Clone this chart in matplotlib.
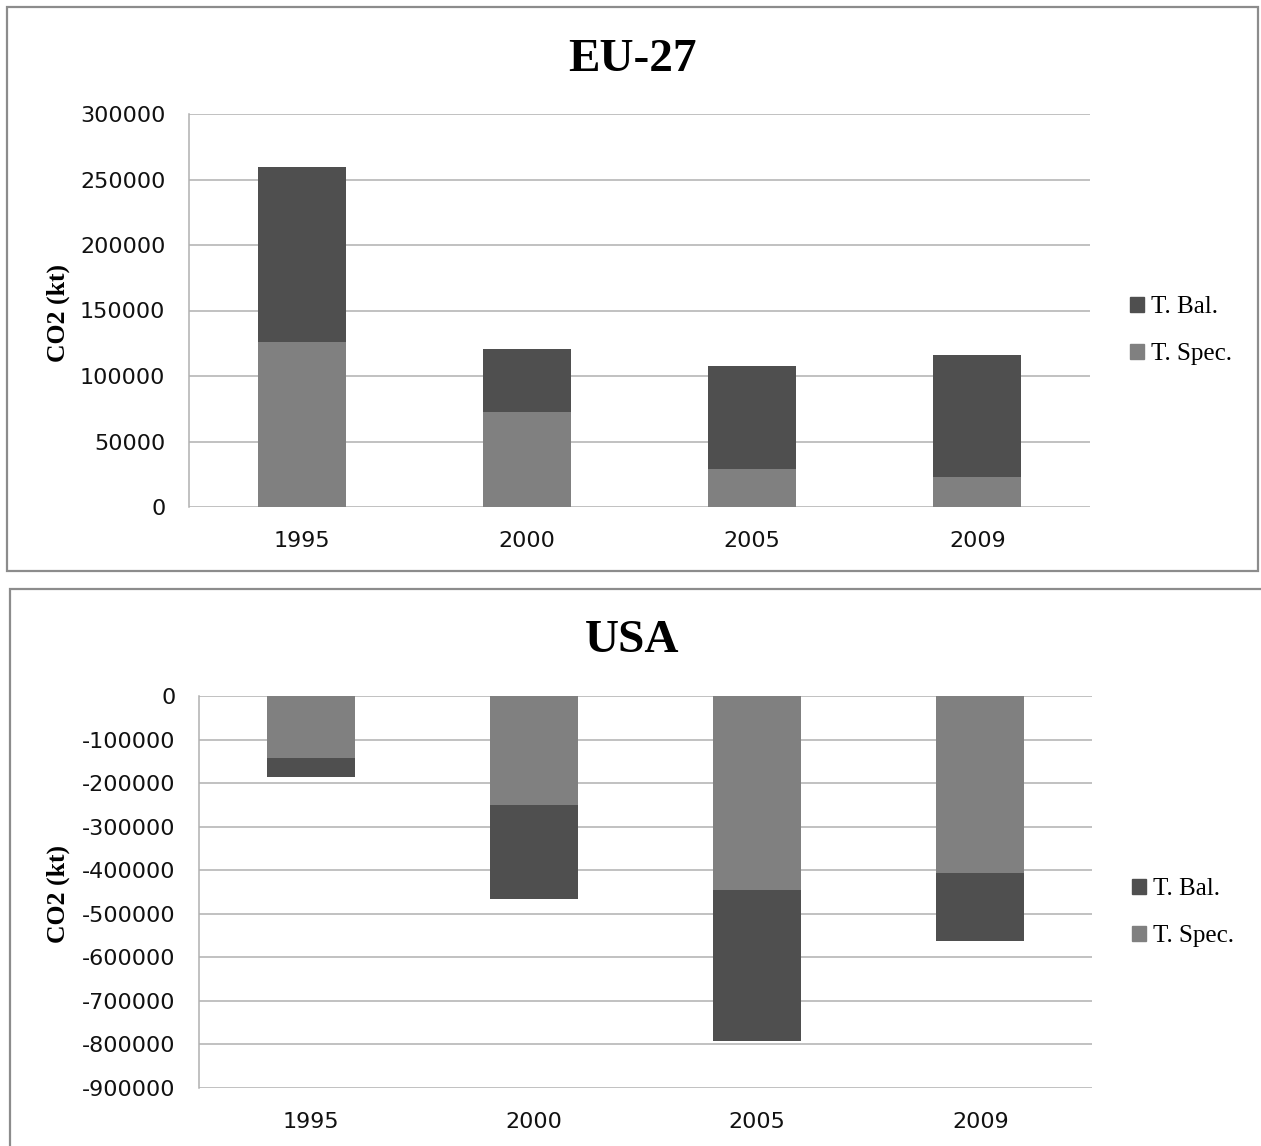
import matplotlib

matplotlib.use("Agg", force=True)

import matplotlib.pyplot as plt
from matplotlib.patches import Patch, Rectangle

W, H = 1261, 1146

years = ["1995", "2000", "2005", "2009"]

# EU-27: trade-specialisation part and trade-balance part (kt CO2), stacked
eu_spec = [125700, 72500, 29000, 22900]
eu_bal = [133600, 48100, 78600, 93100]

# USA: both parts negative, stacked downwards from zero
usa_spec = [-142000, -250000, -445000, -406000]
usa_bal = [-44000, -216000, -347000, -156000]

eu_ticks = [0, 50000, 100000, 150000, 200000, 250000, 300000]
usa_ticks = [0, -100000, -200000, -300000, -400000, -500000,
             -600000, -700000, -800000, -900000]

BAL_COLOR = "#4f4f4f"
SPEC_COLOR = "#808080"
GRID_COLOR = "#b0b0b0"
FRAME_COLOR = "#8c8c8c"
SERIF = ["Liberation Serif", "DejaVu Serif"]


def px_box(left, top, right, bottom):
    return [left / W, 1 - bottom / H, (right - left) / W, (bottom - top) / H]


def draw_panel(fig, box, title, title_y, spec, bal, ticks, bar_w, legend_y):
    ax = fig.add_axes(px_box(*box))
    x = range(len(years))
    ax.bar(x, spec, width=bar_w, color=SPEC_COLOR, zorder=3)
    ax.bar(x, bal, width=bar_w, bottom=spec, color=BAL_COLOR, zorder=3)

    ax.set_xlim(-0.5, len(years) - 0.5)
    ax.set_ylim(min(ticks), max(ticks))
    ax.set_yticks(ticks)
    ax.set_yticklabels([str(t) for t in ticks])
    ax.set_xticks(list(x))
    ax.set_xticklabels(years)
    ax.tick_params(axis="both", length=0, labelsize=16, labelcolor="#111111")
    ax.tick_params(axis="y", pad=17)
    ax.tick_params(axis="x", pad=17.5)
    ax.grid(axis="y", color=GRID_COLOR, linewidth=1.1, zorder=0)
    for side in ("top", "right", "bottom"):
        ax.spines[side].set_visible(False)
    ax.spines["left"].set_color(GRID_COLOR)
    ax.spines["left"].set_linewidth(1.1)

    fig.text(632 / W, 1 - title_y / H, title, ha="center", va="center",
             family=SERIF, fontweight="bold", fontsize=34)
    mid = box[1] + (box[3] - box[1]) / 2
    fig.text(58 / W, 1 - (mid + 2) / H, "CO2 (kt)", rotation=90, ha="center",
             va="center", family=SERIF, fontweight="bold", fontsize=18.5)

    handles = [Patch(color=BAL_COLOR, label="T. Bal."),
               Patch(color=SPEC_COLOR, label="T. Spec.")]
    fig.legend(handles=handles, loc="center left",
               bbox_to_anchor=(box[2] / W + 40 / W, 1 - legend_y / H),
               frameon=False, borderpad=0, borderaxespad=0,
               handlelength=0.55, handleheight=0.55, handletextpad=0.3,
               labelspacing=1.0, prop={"family": SERIF, "size": 18})
    return ax


fig = plt.figure(figsize=(W / 100, H / 100), dpi=100)

# grey frames around each chart
fig.patches.append(Rectangle((7 / W, 1 - 571 / H), 1251 / W, 564 / H,
                             transform=fig.transFigure, fill=False,
                             edgecolor=FRAME_COLOR, linewidth=1.6))
fig.patches.append(Rectangle((9.5 / W, -10 / H), 1270 / W, (H - 589 + 10) / H,
                             transform=fig.transFigure, fill=False,
                             edgecolor=FRAME_COLOR, linewidth=1.6))

draw_panel(fig, (189, 114, 1090, 507), "EU-27", 60, eu_spec, eu_bal,
           eu_ticks, 0.39, 330.5)
draw_panel(fig, (199, 696, 1092, 1088), "USA", 641, usa_spec, usa_bal,
           usa_ticks, 0.395, 912.5)

fig.savefig("out.png", dpi=100)
